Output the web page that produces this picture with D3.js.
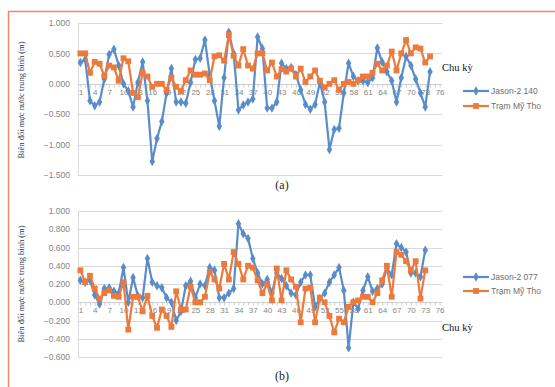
<!DOCTYPE html>
<html>
<head>
<meta charset="utf-8">
<script src="https://cdn.jsdelivr.net/npm/d3@7"></script>
<style>
  body { margin: 0; background: #fff; }
  svg { display: block; }
  .tick text { font-family: "Liberation Sans", Arial, sans-serif; }
</style>
</head>
<body>
<div id="chart"></div>
<script>
// chu kỳ (cycle) categories and which ones get a label
const cycles = d3.range(1, 77);
const xTickLabels = [1, 4, 7, 10, 13, 16, 19, 22, 25, 28, 31, 34, 37, 40, 43, 46, 49, 52, 55, 58, 61, 64, 67, 70, 73, 76];

// panel (a)
const jason140 = [0.35, 0.4, -0.28, -0.36, -0.3, 0.08, 0.48, 0.57, 0.3, 0.0,
  -0.12, -0.38, 0.02, 0.36, -0.28, -1.28, -0.9, -0.62, -0.15, 0.25,
  -0.3, -0.3, -0.32, 0.02, 0.4, 0.42, 0.72, 0.15, -0.28, -0.7,
  0.1, 0.85, 0.5, -0.43, -0.35, -0.3, -0.25, 0.77, 0.58, -0.4,
  -0.4, -0.3, 0.34, 0.25, 0.27, 0.15, -0.1, -0.34, -0.42, -0.34,
  0.02, -0.3, -1.08, -0.75, -0.73, -0.15, 0.34, 0.12, 0.05, 0.05,
  0.02, 0.1, 0.59, 0.36, 0.2, 0.05, -0.3, 0.1, 0.45, 0.3,
  0.08, -0.15, -0.38, 0.2];
const myThoA = [0.5, 0.5, 0.18, 0.36, 0.33, 0.13, 0.3, 0.27, 0.05, 0.42,
  0.37, -0.15, -0.22, 0.18, 0.12, -0.05, 0.0, 0.0, -0.1, 0.1,
  -0.05, -0.12, 0.06, 0.22, 0.15, 0.15, 0.17, 0.06, 0.45, 0.47,
  0.38, 0.8, 0.46, 0.3, 0.57, 0.3, 0.25, 0.5, 0.5, 0.22,
  0.35, 0.12, 0.24, 0.2, 0.25, 0.12, 0.25, 0.03, 0.12, 0.22,
  0.05, -0.06, 0.0, 0.06, -0.1, 0.0, 0.03, 0.0, 0.06, 0.12,
  0.12, 0.18, 0.33, 0.22, 0.3, 0.53, 0.22, 0.5, 0.72, 0.5,
  0.6, 0.58, 0.35, 0.45];
const yTicksA = [1.0, 0.5, 0.0, -0.5, -1.0, -1.5];

// panel (b)
const jason077 = [0.24, 0.22, 0.24, 0.08, -0.02, 0.15, 0.16, 0.12, 0.1, 0.38,
  0.0, 0.27, 0.07, 0.05, 0.48, 0.22, 0.18, 0.16, 0.05, 0.0,
  -0.2, -0.1, 0.18, 0.23, 0.05, 0.2, 0.18, 0.38, 0.35, 0.05,
  0.05, 0.1, 0.15, 0.86, 0.75, 0.7, 0.48, 0.32, 0.2, 0.25,
  0.1, 0.32, 0.26, 0.18, 0.1, 0.08, 0.22, 0.3, 0.3, -0.05,
  0.04, 0.1, 0.22, 0.3, 0.38, 0.13, -0.5, 0.0, -0.07, 0.13,
  0.28, 0.12, 0.15, 0.2, 0.37, 0.3, 0.64, 0.6, 0.55, 0.32,
  0.32, 0.28, 0.57];
const myThoB = [0.35, 0.22, 0.29, 0.15, 0.04, 0.1, 0.13, 0.07, 0.06, 0.22,
  -0.3, 0.06, 0.06, -0.1, 0.07, -0.15, -0.28, -0.08, -0.15, -0.27,
  0.12, -0.08, -0.08, 0.17, 0.0, 0.0, 0.06, 0.33, 0.25, 0.15,
  0.42, 0.25, 0.55, 0.42, 0.25, 0.4, 0.38, 0.24, 0.1, 0.2,
  0.02, 0.37, 0.02, 0.35, 0.25, 0.17, -0.22, 0.15, 0.16, -0.22,
  0.05, 0.0, -0.15, -0.33, -0.18, -0.22, -0.05, 0.0, 0.02, 0.06,
  0.06, 0.0, 0.1, 0.24, 0.4, 0.06, 0.55, 0.52, 0.45, 0.35,
  0.45, 0.04, 0.35];
const yTicksB = [1.0, 0.8, 0.6, 0.4, 0.2, 0.0, -0.2, -0.4, -0.6];

const blue = '#5a8cca';
const orange = '#ec7a3c';
const yTitle = 'Biến đổi mực nước trung bình (m)';

const svg = d3.select('#chart').append('svg')
  .attr('width', 555)
  .attr('height', 387);

svg.append('rect').attr('width', 555).attr('height', 387).attr('fill', '#fff');

// orange frame round the figure (cut off at right and bottom)
svg.append('rect')
  .attr('x', 8.5).attr('y', 11.5)
  .attr('width', 560).attr('height', 390)
  .attr('fill', 'none')
  .attr('stroke', '#f2865a')
  .attr('stroke-width', 1.5);

const x = d3.scalePoint()
  .domain(cycles)
  .range([78, 442])
  .padding(0.5);

function drawPanel(p) {
  const y = d3.scaleLinear().domain(p.domain).range(p.range);
  const g = svg.append('g');

  // gridlines
  g.selectAll('.grid').data(p.yTicks).enter().append('line')
    .attr('x1', 78).attr('x2', 442)
    .attr('y1', d => Math.round(y(d)) + 0.5).attr('y2', d => Math.round(y(d)) + 0.5)
    .attr('stroke', '#d9d9d9').attr('stroke-width', 1);

  // vertical axis line
  g.append('line')
    .attr('x1', 78.5).attr('x2', 78.5)
    .attr('y1', y(p.domain[1])).attr('y2', y(p.domain[0]))
    .attr('stroke', '#d9d9d9');

  // y axis labels
  const yAxis = d3.axisLeft(y).tickValues(p.yTicks).tickSize(0).tickPadding(8)
    .tickFormat(d3.format('.3f'));
  g.append('g').attr('transform', 'translate(78,0)').call(yAxis)
    .call(a => a.select('.domain').remove())
    .call(a => a.selectAll('text').attr('fill', '#858585').attr('font-size', 8.5));

  // category axis at zero
  const xAxis = d3.axisBottom(x).tickSize(3).tickPadding(2)
    .tickFormat(d => xTickLabels.includes(d) ? d : '');
  g.append('g').attr('transform', `translate(0,${Math.round(y(0)) + 0.5})`).call(xAxis)
    .call(a => a.select('.domain').attr('stroke', '#cfcfcf').attr('d', 'M78,0H442'))
    .call(a => a.selectAll('.tick line').attr('stroke', '#cfcfcf'))
    .call(a => a.selectAll('text').attr('fill', '#858585').attr('font-size', 8));

  // series: blue first, orange on top
  const line = d3.line().defined(d => d != null)
    .x((d, i) => x(cycles[i])).y(d => y(d));

  const series = [
    {vals: p.jason, color: blue, sym: d3.symbolDiamond, size: 26},
    {vals: p.myTho, color: orange, sym: d3.symbolSquare, size: 34}
  ];
  series.forEach(s => {
    g.append('path').datum(s.vals)
      .attr('fill', 'none').attr('stroke', s.color)
      .attr('stroke-width', 2.2).attr('stroke-linejoin', 'round')
      .attr('d', line);
    g.selectAll(null).data(s.vals).enter().append('path')
      .attr('transform', (d, i) => `translate(${x(cycles[i])},${y(d)})`)
      .attr('d', d3.symbol(s.sym, s.size))
      .attr('fill', s.color);
  });

  // y title
  g.append('text')
    .attr('transform', `translate(${p.titleX},${p.titleY}) rotate(-90)`)
    .attr('text-anchor', 'middle')
    .attr('font-family', '"Liberation Serif", "DejaVu Serif", serif')
    .attr('font-size', 8.5)
    .attr('fill', '#333')
    .text(yTitle);

  // "Chu kỳ"
  g.append('text')
    .attr('x', 442).attr('y', p.chuY)
    .attr('font-family', '"Liberation Serif", "DejaVu Serif", serif')
    .attr('font-size', 10.5)
    .attr('fill', '#111')
    .text('Chu kỳ');

  // legend
  p.legend.forEach((name, i) => {
    const s = series[i];
    const ly = p.legendY[i];
    g.append('line')
      .attr('x1', 463).attr('x2', 489).attr('y1', ly).attr('y2', ly)
      .attr('stroke', s.color).attr('stroke-width', 2.2);
    g.append('path')
      .attr('transform', `translate(476,${ly})`)
      .attr('d', d3.symbol(s.sym, s.size))
      .attr('fill', s.color);
    g.append('text')
      .attr('x', 491).attr('y', ly + 3)
      .attr('font-family', '"Liberation Sans", Arial, sans-serif')
      .attr('font-size', 8.5)
      .attr('fill', '#6f6f6f')
      .text(name);
  });

  // panel letter
  g.append('text')
    .attr('x', 282).attr('y', p.letterY)
    .attr('text-anchor', 'middle')
    .attr('font-family', '"Liberation Serif", "DejaVu Serif", serif')
    .attr('font-size', 12)
    .attr('fill', '#222')
    .text(p.letter);
}

drawPanel({
  domain: [-1.5, 1.0], range: [175, 23], yTicks: yTicksA,
  jason: jason140, myTho: myThoA,
  legend: ['Jason-2 140', 'Trạm Mỹ Tho'], legendY: [91, 106],
  chuY: 71, titleX: 24, titleY: 100, letter: '(a)', letterY: 189
});

drawPanel({
  domain: [-0.6, 1.0], range: [357, 211], yTicks: yTicksB,
  jason: jason077, myTho: myThoB,
  legend: ['Jason-2 077', 'Trạm Mỹ Tho'], legendY: [277, 291],
  chuY: 331, titleX: 24, titleY: 284, letter: '(b)', letterY: 380
});
</script>
</body>
</html>
